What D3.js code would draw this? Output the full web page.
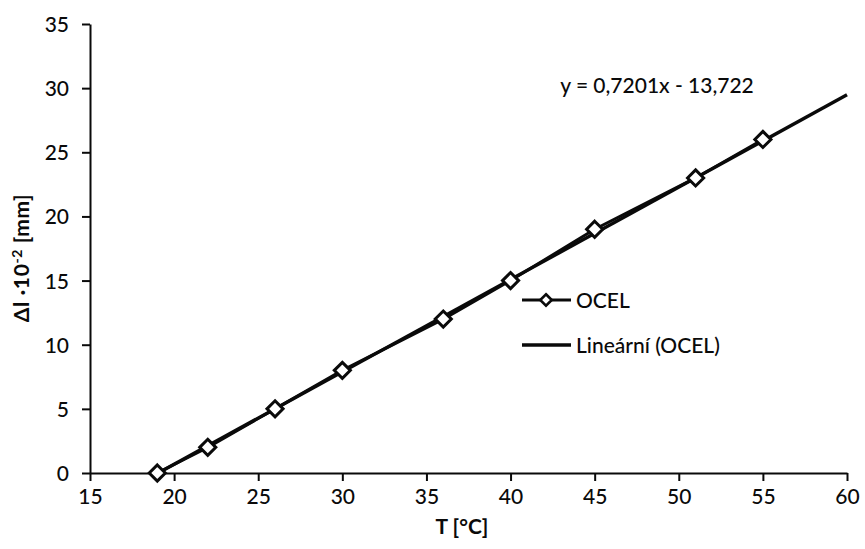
<!DOCTYPE html>
<html>
<head>
<meta charset="utf-8">
<script src="https://cdn.jsdelivr.net/npm/d3@7"></script>
<style>
  html, body { margin: 0; padding: 0; background: #fff; }
  svg { display: block; font-family: Lato, "Open Sans", sans-serif; }
</style>
</head>
<body>
<svg id="chart" width="865" height="549"></svg>
<script>
// Measured temperature (°C) and elongation (Δl · 10^-2 mm) for steel
const temperature = [19, 22, 26, 30, 36, 40, 45, 51, 55];
const elongation = [0, 2, 5, 8, 12, 15, 19, 23, 26];
const seriesName = "OCEL";
const trendName = "Lineární (OCEL)";

// Linear trend line: y = slope * x + intercept
const trendSlope = 0.7201;
const trendIntercept = -13.722;
const trendFrom = 19;
const trendTo = 60;
const trendLabel = "y = 0,7201x - 13,722";

const xTicks = [15, 20, 25, 30, 35, 40, 45, 50, 55, 60];
const yTicks = [0, 5, 10, 15, 20, 25, 30, 35];
const xTitle = "T [°C]";

const svg = d3.select("#chart");
const ink = "#0a0a0a";

const x = d3.scaleLinear().domain([15, 60]).range([90, 847]);
const y = d3.scaleLinear().domain([0, 35]).range([473, 24]);

// Axes
const xAxis = d3.axisBottom(x).tickValues(xTicks).tickSize(8).tickSizeOuter(0).tickPadding(8);
const yAxis = d3.axisLeft(y).tickValues(yTicks).tickSize(8).tickSizeOuter(0).tickPadding(13);

const gx = svg.append("g").attr("transform", `translate(0,${y(0)})`).call(xAxis);
const gy = svg.append("g").attr("transform", `translate(${x(15)},0)`).call(yAxis);

[gx, gy].forEach(g => {
  g.select(".domain").attr("stroke", ink).attr("stroke-width", 2);
  g.selectAll(".tick line").attr("stroke", ink).attr("stroke-width", 2);
  g.selectAll(".tick text")
    .attr("fill", ink)
    .style("font-family", "Lato, 'Open Sans', sans-serif")
    .style("font-size", "21px")
    .style("font-weight", "500");
});
gy.selectAll(".tick text").attr("dy", "0.36em");

// Axis titles
svg.append("text")
  .attr("x", 462).attr("y", 534)
  .attr("text-anchor", "middle")
  .attr("fill", ink)
  .style("font-size", "21px").style("font-weight", "bold")
  .text(xTitle);

const yTitle = svg.append("text")
  .attr("transform", "translate(29,258) rotate(-90)")
  .attr("text-anchor", "middle")
  .attr("fill", ink)
  .style("font-size", "21px").style("font-weight", "bold")
  .style("letter-spacing", "0.6px");
yTitle.append("tspan").text("Δl ·10");
yTitle.append("tspan").attr("dy", -7).style("font-size", "14px").text("-2");
yTitle.append("tspan").attr("dy", 7).text(" [mm]");

// Trend line
const trendPts = [trendFrom, trendTo].map(t => [t, trendSlope * t + trendIntercept]);
svg.append("path")
  .attr("d", d3.line().x(d => x(d[0])).y(d => y(d[1]))(trendPts))
  .attr("fill", "none").attr("stroke", ink).attr("stroke-width", 3.4);

// Data series line
const data = temperature.map((t, i) => [t, elongation[i]]);
svg.append("path")
  .attr("d", d3.line().x(d => x(d[0])).y(d => y(d[1]))(data))
  .attr("fill", "none").attr("stroke", ink).attr("stroke-width", 3);

// Diamond markers
const diamond = d3.symbol().type(d3.symbolDiamond2).size(165);
svg.append("g").selectAll("path")
  .data(data)
  .join("path")
  .attr("d", diamond)
  .attr("transform", d => `translate(${x(d[0])},${y(d[1])})`)
  .attr("fill", "#fff").attr("stroke", ink).attr("stroke-width", 3);

// Trend equation
svg.append("text")
  .attr("x", 657).attr("y", 93)
  .attr("text-anchor", "middle")
  .attr("fill", ink)
  .style("font-size", "21px").style("font-weight", "500")
  .text(trendLabel);

// Legend
const legend = svg.append("g");
legend.append("line").attr("x1", 522).attr("x2", 571).attr("y1", 300).attr("y2", 300)
  .attr("stroke", ink).attr("stroke-width", 2.8);
legend.append("path").attr("d", d3.symbol().type(d3.symbolDiamond2).size(85)())
  .attr("transform", "translate(546,300)")
  .attr("fill", "#fff").attr("stroke", ink).attr("stroke-width", 2.6);
legend.append("text").attr("x", 576).attr("y", 307.5).attr("fill", ink)
  .style("font-size", "21px").style("font-weight", "500").text(seriesName);

legend.append("line").attr("x1", 522).attr("x2", 571).attr("y1", 345).attr("y2", 345)
  .attr("stroke", ink).attr("stroke-width", 3.4);
legend.append("text").attr("x", 576).attr("y", 352.5).attr("fill", ink)
  .style("font-size", "21px").style("font-weight", "500").text(trendName);
</script>
</body>
</html>
